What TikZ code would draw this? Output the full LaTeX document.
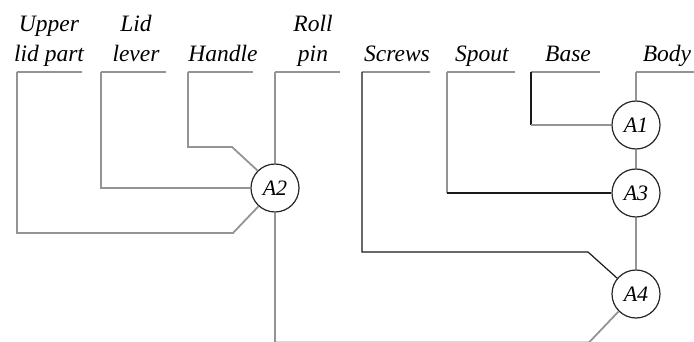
\documentclass[tikz,border=0pt]{standalone}
\usepackage{fontspec}
\setmainfont{Liberation Serif}
\begin{document}
\begin{tikzpicture}[x=1pt,y=-1pt,
  lbl/.style={font=\itshape\fontsize{23.5}{27}\selectfont, anchor=base, inner sep=0pt},
  gl/.style={draw=black!42, line width=1.8pt},
  bl/.style={draw=black!90, line width=1.2pt},
  asm/.style={circle, draw=black!85, line width=1.2pt, minimum size=48pt, inner sep=0pt, fill=white, font=\itshape\fontsize{22}{24}\selectfont}]
\useasboundingbox (0,0) rectangle (694,342);
% labels
\node[lbl] (up1) at (49,32) {Upper};
\node[lbl] (up2) at (49,62) {lid part};
\node[lbl] (ll1) at (136,32) {Lid};
\node[lbl] (ll2) at (136,62) {lever};
\node[lbl] (ha) at (223,62) {Handle};
\node[lbl] (rp1) at (313,32) {Roll};
\node[lbl] (rp2) at (313,62) {pin};
\node[lbl] (sc) at (397,62) {Screws};
\node[lbl] (sp) at (482,62) {Spout};
\node[lbl] (ba) at (568,62) {Base};
\node[lbl] (bo) at (667,62) {Body};
% bracket corners
\coordinate (cUp) at (17,72);   \coordinate (eUp) at (82,72);
\coordinate (cLl) at (101,72);  \coordinate (eLl) at (166,72);
\coordinate (cHa) at (188,72);  \coordinate (eHa) at (253,72);
\coordinate (cRp) at (275,72);  \coordinate (eRp) at (340,72);
\coordinate (cSc) at (362,72);  \coordinate (eSc) at (430,72);
\coordinate (cSp) at (447,72);  \coordinate (eSp) at (515,72);
\coordinate (cBa) at (531,72);  \coordinate (eBa) at (600,72);
\coordinate (cBo) at (636,72);  \coordinate (eBo) at (694,72);
% assembly nodes
\node[asm] (A2) at (275,188) {A2};
\node[asm] (A1) at (636,125) {A1};
\node[asm] (A3) at (636,193) {A3};
\node[asm] (A4) at (636,294) {A4};
% bars
\foreach \c in {Up,Ll,Ha,Rp,Sc,Sp,Ba,Bo}
  \draw[gl] (c\c) -- (e\c);
% connectors
\draw[gl] (cUp) -- (17,233) -- (233,233) -- (A2.228);
\draw[gl] (cLl) -- (101,188) -- (A2.west);
\draw[gl] (cHa) -- (188,147) -- (232,147) -- (A2.135);
\draw[gl] (cRp) -- (A2.north);
\draw[gl] (A2.south) -- (275,342.5) -- (589,342.5) -- (A4.225);
\draw[bl] (cSc) -- (362,252) -- (588,252) -- (A4.140);
\draw[gl] (cSp) -- (447,193);
\draw[bl] (447,193) -- (A3.west);
\draw[bl] (cBa) -- (531,125);
\draw[gl] (531,125) -- (A1.west);
\draw[gl] (cBo) -- (A1.north);
\draw[gl] (A1.south) -- (A3.north);
\draw[gl] (A3.south) -- (A4.north);
\end{tikzpicture}
\end{document}
